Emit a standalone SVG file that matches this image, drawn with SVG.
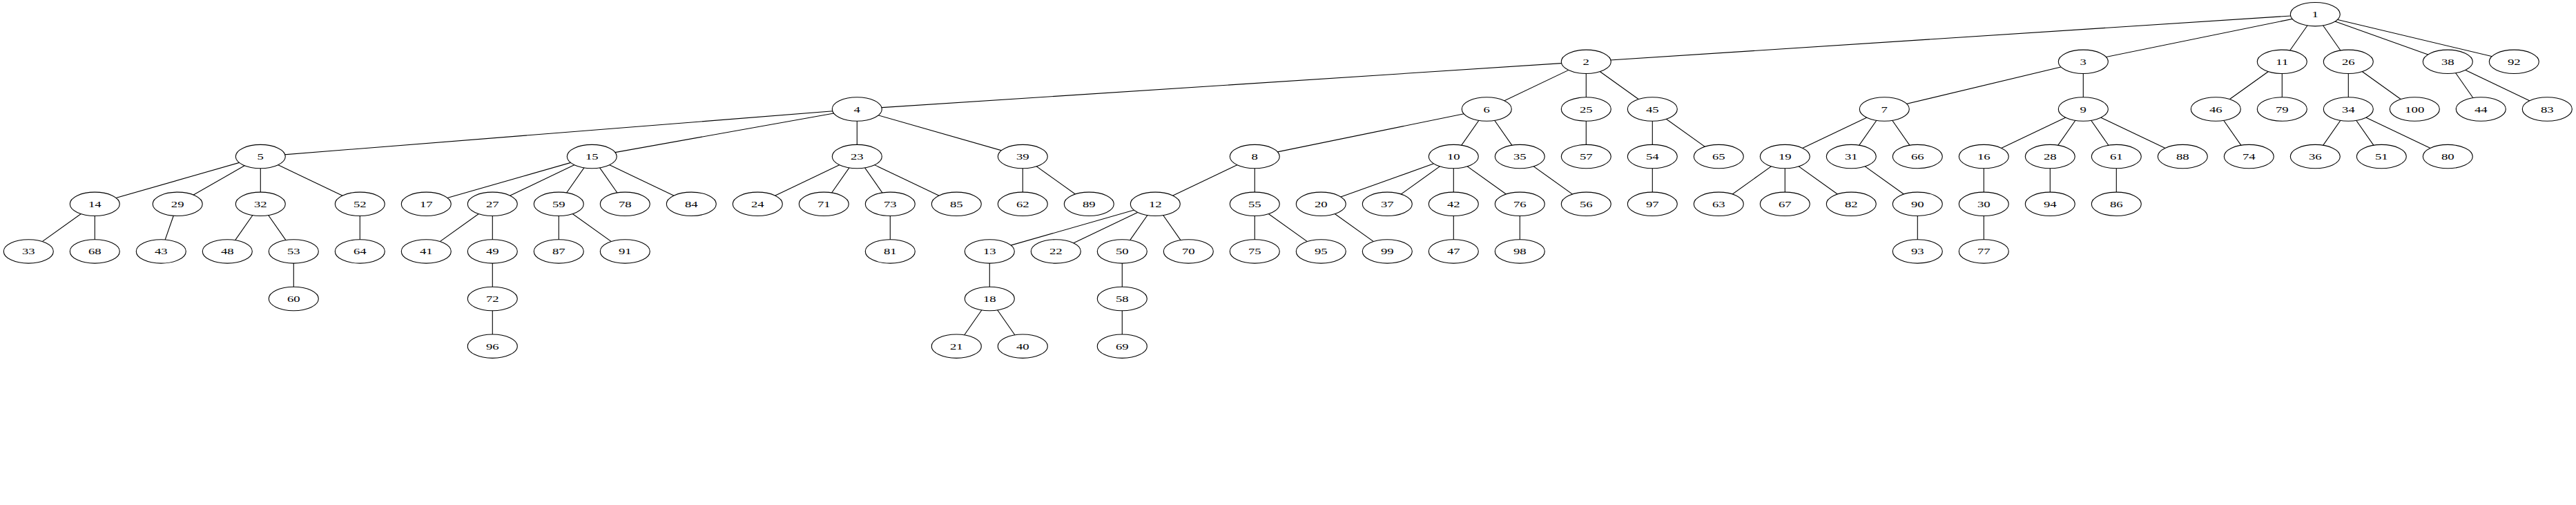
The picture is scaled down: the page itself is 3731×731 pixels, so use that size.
<svg xmlns="http://www.w3.org/2000/svg" width="3731" height="731" viewBox="0 0 3731 731">
<style>
.node ellipse{fill:#fff;stroke:#000;stroke-width:1.1}
.node text{font-family:"Liberation Serif","Times New Roman",serif;font-size:13.4px;text-anchor:middle;fill:#000}
#edges line{stroke:#000;stroke-width:1.1}
</style>
<rect width="3731" height="731" fill="#fff"/>
<g id="edges">
<line x1="3353.3" y1="20.7" x2="2297.3" y2="89.3"/>
<line x1="3353.3" y1="20.7" x2="3017.3" y2="89.3"/>
<line x1="3353.3" y1="20.7" x2="3305.3" y2="89.3"/>
<line x1="3353.3" y1="20.7" x2="3401.3" y2="89.3"/>
<line x1="3353.3" y1="20.7" x2="3545.3" y2="89.3"/>
<line x1="3353.3" y1="20.7" x2="3641.3" y2="89.3"/>
<line x1="2297.3" y1="89.3" x2="1241.3" y2="158"/>
<line x1="2297.3" y1="89.3" x2="2153.3" y2="158"/>
<line x1="2297.3" y1="89.3" x2="2297.3" y2="158"/>
<line x1="2297.3" y1="89.3" x2="2393.3" y2="158"/>
<line x1="3017.3" y1="89.3" x2="2729.3" y2="158"/>
<line x1="3017.3" y1="89.3" x2="3017.3" y2="158"/>
<line x1="3305.3" y1="89.3" x2="3209.3" y2="158"/>
<line x1="3305.3" y1="89.3" x2="3305.3" y2="158"/>
<line x1="3401.3" y1="89.3" x2="3401.3" y2="158"/>
<line x1="3401.3" y1="89.3" x2="3497.3" y2="158"/>
<line x1="3545.3" y1="89.3" x2="3593.3" y2="158"/>
<line x1="3545.3" y1="89.3" x2="3689.3" y2="158"/>
<line x1="1241.3" y1="158" x2="377.3" y2="226.6"/>
<line x1="1241.3" y1="158" x2="857.3" y2="226.6"/>
<line x1="1241.3" y1="158" x2="1241.3" y2="226.6"/>
<line x1="1241.3" y1="158" x2="1481.3" y2="226.6"/>
<line x1="2153.3" y1="158" x2="1817.3" y2="226.6"/>
<line x1="2153.3" y1="158" x2="2105.3" y2="226.6"/>
<line x1="2153.3" y1="158" x2="2201.3" y2="226.6"/>
<line x1="2297.3" y1="158" x2="2297.3" y2="226.6"/>
<line x1="2393.3" y1="158" x2="2393.3" y2="226.6"/>
<line x1="2393.3" y1="158" x2="2489.3" y2="226.6"/>
<line x1="2729.3" y1="158" x2="2585.3" y2="226.6"/>
<line x1="2729.3" y1="158" x2="2681.3" y2="226.6"/>
<line x1="2729.3" y1="158" x2="2777.3" y2="226.6"/>
<line x1="3017.3" y1="158" x2="2873.3" y2="226.6"/>
<line x1="3017.3" y1="158" x2="2969.3" y2="226.6"/>
<line x1="3017.3" y1="158" x2="3065.3" y2="226.6"/>
<line x1="3017.3" y1="158" x2="3161.3" y2="226.6"/>
<line x1="3209.3" y1="158" x2="3257.3" y2="226.6"/>
<line x1="3401.3" y1="158" x2="3353.3" y2="226.6"/>
<line x1="3401.3" y1="158" x2="3449.3" y2="226.6"/>
<line x1="3401.3" y1="158" x2="3545.3" y2="226.6"/>
<line x1="377.3" y1="226.6" x2="137.3" y2="295.3"/>
<line x1="377.3" y1="226.6" x2="257.2" y2="295.3"/>
<line x1="377.3" y1="226.6" x2="377.3" y2="295.3"/>
<line x1="377.3" y1="226.6" x2="521.3" y2="295.3"/>
<line x1="857.3" y1="226.6" x2="617.3" y2="295.3"/>
<line x1="857.3" y1="226.6" x2="713.3" y2="295.3"/>
<line x1="857.3" y1="226.6" x2="809.3" y2="295.3"/>
<line x1="857.3" y1="226.6" x2="905.3" y2="295.3"/>
<line x1="857.3" y1="226.6" x2="1001.3" y2="295.3"/>
<line x1="1241.3" y1="226.6" x2="1097.3" y2="295.3"/>
<line x1="1241.3" y1="226.6" x2="1193.3" y2="295.3"/>
<line x1="1241.3" y1="226.6" x2="1289.3" y2="295.3"/>
<line x1="1241.3" y1="226.6" x2="1385.3" y2="295.3"/>
<line x1="1481.3" y1="226.6" x2="1481.3" y2="295.3"/>
<line x1="1481.3" y1="226.6" x2="1577.3" y2="295.3"/>
<line x1="1817.3" y1="226.6" x2="1673.3" y2="295.3"/>
<line x1="1817.3" y1="226.6" x2="1817.3" y2="295.3"/>
<line x1="2105.3" y1="226.6" x2="1913.3" y2="295.3"/>
<line x1="2105.3" y1="226.6" x2="2009.3" y2="295.3"/>
<line x1="2105.3" y1="226.6" x2="2105.3" y2="295.3"/>
<line x1="2105.3" y1="226.6" x2="2201.3" y2="295.3"/>
<line x1="2201.3" y1="226.6" x2="2297.3" y2="295.3"/>
<line x1="2393.3" y1="226.6" x2="2393.3" y2="295.3"/>
<line x1="2585.3" y1="226.6" x2="2489.3" y2="295.3"/>
<line x1="2585.3" y1="226.6" x2="2585.3" y2="295.3"/>
<line x1="2585.3" y1="226.6" x2="2681.3" y2="295.3"/>
<line x1="2681.3" y1="226.6" x2="2777.3" y2="295.3"/>
<line x1="2873.3" y1="226.6" x2="2873.3" y2="295.3"/>
<line x1="2969.3" y1="226.6" x2="2969.3" y2="295.3"/>
<line x1="3065.3" y1="226.6" x2="3065.3" y2="295.3"/>
<line x1="137.3" y1="295.3" x2="41.3" y2="363.9"/>
<line x1="137.3" y1="295.3" x2="137.3" y2="363.9"/>
<line x1="257.2" y1="295.3" x2="233.3" y2="363.9"/>
<line x1="377.3" y1="295.3" x2="329.3" y2="363.9"/>
<line x1="377.3" y1="295.3" x2="425.3" y2="363.9"/>
<line x1="521.3" y1="295.3" x2="521.3" y2="363.9"/>
<line x1="713.3" y1="295.3" x2="617.3" y2="363.9"/>
<line x1="713.3" y1="295.3" x2="713.3" y2="363.9"/>
<line x1="809.3" y1="295.3" x2="809.3" y2="363.9"/>
<line x1="809.3" y1="295.3" x2="905.3" y2="363.9"/>
<line x1="1289.3" y1="295.3" x2="1289.3" y2="363.9"/>
<line x1="1673.3" y1="295.3" x2="1433.3" y2="363.9"/>
<line x1="1673.3" y1="295.3" x2="1529.3" y2="363.9"/>
<line x1="1673.3" y1="295.3" x2="1625.3" y2="363.9"/>
<line x1="1673.3" y1="295.3" x2="1721.3" y2="363.9"/>
<line x1="1817.3" y1="295.3" x2="1817.3" y2="363.9"/>
<line x1="1817.3" y1="295.3" x2="1913.3" y2="363.9"/>
<line x1="1913.3" y1="295.3" x2="2009.3" y2="363.9"/>
<line x1="2105.3" y1="295.3" x2="2105.3" y2="363.9"/>
<line x1="2201.3" y1="295.3" x2="2201.3" y2="363.9"/>
<line x1="2777.3" y1="295.3" x2="2777.3" y2="363.9"/>
<line x1="2873.3" y1="295.3" x2="2873.3" y2="363.9"/>
<line x1="425.3" y1="363.9" x2="425.3" y2="432.5"/>
<line x1="713.3" y1="363.9" x2="713.3" y2="432.5"/>
<line x1="1433.3" y1="363.9" x2="1433.3" y2="432.5"/>
<line x1="1625.3" y1="363.9" x2="1625.3" y2="432.5"/>
<line x1="713.3" y1="432.5" x2="713.3" y2="501.2"/>
<line x1="1433.3" y1="432.5" x2="1385.3" y2="501.2"/>
<line x1="1433.3" y1="432.5" x2="1481.3" y2="501.2"/>
<line x1="1625.3" y1="432.5" x2="1625.3" y2="501.2"/>
</g>
<g id="n1" class="node"><ellipse cx="3353.3" cy="20.7" rx="36" ry="17.2"/><text transform="translate(3353.3,20.7) scale(1.4,1)" y="4.5">1</text></g>
<g id="n2" class="node"><ellipse cx="2297.3" cy="89.3" rx="36" ry="17.2"/><text transform="translate(2297.3,89.3) scale(1.4,1)" y="4.5">2</text></g>
<g id="n3" class="node"><ellipse cx="3017.3" cy="89.3" rx="36" ry="17.2"/><text transform="translate(3017.3,89.3) scale(1.4,1)" y="4.5">3</text></g>
<g id="n11" class="node"><ellipse cx="3305.3" cy="89.3" rx="36" ry="17.2"/><text transform="translate(3305.3,89.3) scale(1.4,1)" y="4.5">11</text></g>
<g id="n26" class="node"><ellipse cx="3401.3" cy="89.3" rx="36" ry="17.2"/><text transform="translate(3401.3,89.3) scale(1.4,1)" y="4.5">26</text></g>
<g id="n38" class="node"><ellipse cx="3545.3" cy="89.3" rx="36" ry="17.2"/><text transform="translate(3545.3,89.3) scale(1.4,1)" y="4.5">38</text></g>
<g id="n92" class="node"><ellipse cx="3641.3" cy="89.3" rx="36" ry="17.2"/><text transform="translate(3641.3,89.3) scale(1.4,1)" y="4.5">92</text></g>
<g id="n4" class="node"><ellipse cx="1241.3" cy="158" rx="36" ry="17.2"/><text transform="translate(1241.3,158) scale(1.4,1)" y="4.5">4</text></g>
<g id="n6" class="node"><ellipse cx="2153.3" cy="158" rx="36" ry="17.2"/><text transform="translate(2153.3,158) scale(1.4,1)" y="4.5">6</text></g>
<g id="n25" class="node"><ellipse cx="2297.3" cy="158" rx="36" ry="17.2"/><text transform="translate(2297.3,158) scale(1.4,1)" y="4.5">25</text></g>
<g id="n45" class="node"><ellipse cx="2393.3" cy="158" rx="36" ry="17.2"/><text transform="translate(2393.3,158) scale(1.4,1)" y="4.5">45</text></g>
<g id="n7" class="node"><ellipse cx="2729.3" cy="158" rx="36" ry="17.2"/><text transform="translate(2729.3,158) scale(1.4,1)" y="4.5">7</text></g>
<g id="n9" class="node"><ellipse cx="3017.3" cy="158" rx="36" ry="17.2"/><text transform="translate(3017.3,158) scale(1.4,1)" y="4.5">9</text></g>
<g id="n46" class="node"><ellipse cx="3209.3" cy="158" rx="36" ry="17.2"/><text transform="translate(3209.3,158) scale(1.4,1)" y="4.5">46</text></g>
<g id="n79" class="node"><ellipse cx="3305.3" cy="158" rx="36" ry="17.2"/><text transform="translate(3305.3,158) scale(1.4,1)" y="4.5">79</text></g>
<g id="n34" class="node"><ellipse cx="3401.3" cy="158" rx="36" ry="17.2"/><text transform="translate(3401.3,158) scale(1.4,1)" y="4.5">34</text></g>
<g id="n100" class="node"><ellipse cx="3497.3" cy="158" rx="36" ry="17.2"/><text transform="translate(3497.3,158) scale(1.4,1)" y="4.5">100</text></g>
<g id="n44" class="node"><ellipse cx="3593.3" cy="158" rx="36" ry="17.2"/><text transform="translate(3593.3,158) scale(1.4,1)" y="4.5">44</text></g>
<g id="n83" class="node"><ellipse cx="3689.3" cy="158" rx="36" ry="17.2"/><text transform="translate(3689.3,158) scale(1.4,1)" y="4.5">83</text></g>
<g id="n5" class="node"><ellipse cx="377.3" cy="226.6" rx="36" ry="17.2"/><text transform="translate(377.3,226.6) scale(1.4,1)" y="4.5">5</text></g>
<g id="n15" class="node"><ellipse cx="857.3" cy="226.6" rx="36" ry="17.2"/><text transform="translate(857.3,226.6) scale(1.4,1)" y="4.5">15</text></g>
<g id="n23" class="node"><ellipse cx="1241.3" cy="226.6" rx="36" ry="17.2"/><text transform="translate(1241.3,226.6) scale(1.4,1)" y="4.5">23</text></g>
<g id="n39" class="node"><ellipse cx="1481.3" cy="226.6" rx="36" ry="17.2"/><text transform="translate(1481.3,226.6) scale(1.4,1)" y="4.5">39</text></g>
<g id="n8" class="node"><ellipse cx="1817.3" cy="226.6" rx="36" ry="17.2"/><text transform="translate(1817.3,226.6) scale(1.4,1)" y="4.5">8</text></g>
<g id="n10" class="node"><ellipse cx="2105.3" cy="226.6" rx="36" ry="17.2"/><text transform="translate(2105.3,226.6) scale(1.4,1)" y="4.5">10</text></g>
<g id="n35" class="node"><ellipse cx="2201.3" cy="226.6" rx="36" ry="17.2"/><text transform="translate(2201.3,226.6) scale(1.4,1)" y="4.5">35</text></g>
<g id="n57" class="node"><ellipse cx="2297.3" cy="226.6" rx="36" ry="17.2"/><text transform="translate(2297.3,226.6) scale(1.4,1)" y="4.5">57</text></g>
<g id="n54" class="node"><ellipse cx="2393.3" cy="226.6" rx="36" ry="17.2"/><text transform="translate(2393.3,226.6) scale(1.4,1)" y="4.5">54</text></g>
<g id="n65" class="node"><ellipse cx="2489.3" cy="226.6" rx="36" ry="17.2"/><text transform="translate(2489.3,226.6) scale(1.4,1)" y="4.5">65</text></g>
<g id="n19" class="node"><ellipse cx="2585.3" cy="226.6" rx="36" ry="17.2"/><text transform="translate(2585.3,226.6) scale(1.4,1)" y="4.5">19</text></g>
<g id="n31" class="node"><ellipse cx="2681.3" cy="226.6" rx="36" ry="17.2"/><text transform="translate(2681.3,226.6) scale(1.4,1)" y="4.5">31</text></g>
<g id="n66" class="node"><ellipse cx="2777.3" cy="226.6" rx="36" ry="17.2"/><text transform="translate(2777.3,226.6) scale(1.4,1)" y="4.5">66</text></g>
<g id="n16" class="node"><ellipse cx="2873.3" cy="226.6" rx="36" ry="17.2"/><text transform="translate(2873.3,226.6) scale(1.4,1)" y="4.5">16</text></g>
<g id="n28" class="node"><ellipse cx="2969.3" cy="226.6" rx="36" ry="17.2"/><text transform="translate(2969.3,226.6) scale(1.4,1)" y="4.5">28</text></g>
<g id="n61" class="node"><ellipse cx="3065.3" cy="226.6" rx="36" ry="17.2"/><text transform="translate(3065.3,226.6) scale(1.4,1)" y="4.5">61</text></g>
<g id="n88" class="node"><ellipse cx="3161.3" cy="226.6" rx="36" ry="17.2"/><text transform="translate(3161.3,226.6) scale(1.4,1)" y="4.5">88</text></g>
<g id="n74" class="node"><ellipse cx="3257.3" cy="226.6" rx="36" ry="17.2"/><text transform="translate(3257.3,226.6) scale(1.4,1)" y="4.5">74</text></g>
<g id="n36" class="node"><ellipse cx="3353.3" cy="226.6" rx="36" ry="17.2"/><text transform="translate(3353.3,226.6) scale(1.4,1)" y="4.5">36</text></g>
<g id="n51" class="node"><ellipse cx="3449.3" cy="226.6" rx="36" ry="17.2"/><text transform="translate(3449.3,226.6) scale(1.4,1)" y="4.5">51</text></g>
<g id="n80" class="node"><ellipse cx="3545.3" cy="226.6" rx="36" ry="17.2"/><text transform="translate(3545.3,226.6) scale(1.4,1)" y="4.5">80</text></g>
<g id="n14" class="node"><ellipse cx="137.3" cy="295.3" rx="36" ry="17.2"/><text transform="translate(137.3,295.3) scale(1.4,1)" y="4.5">14</text></g>
<g id="n29" class="node"><ellipse cx="257.2" cy="295.3" rx="36" ry="17.2"/><text transform="translate(257.2,295.3) scale(1.4,1)" y="4.5">29</text></g>
<g id="n32" class="node"><ellipse cx="377.3" cy="295.3" rx="36" ry="17.2"/><text transform="translate(377.3,295.3) scale(1.4,1)" y="4.5">32</text></g>
<g id="n52" class="node"><ellipse cx="521.3" cy="295.3" rx="36" ry="17.2"/><text transform="translate(521.3,295.3) scale(1.4,1)" y="4.5">52</text></g>
<g id="n17" class="node"><ellipse cx="617.3" cy="295.3" rx="36" ry="17.2"/><text transform="translate(617.3,295.3) scale(1.4,1)" y="4.5">17</text></g>
<g id="n27" class="node"><ellipse cx="713.3" cy="295.3" rx="36" ry="17.2"/><text transform="translate(713.3,295.3) scale(1.4,1)" y="4.5">27</text></g>
<g id="n59" class="node"><ellipse cx="809.3" cy="295.3" rx="36" ry="17.2"/><text transform="translate(809.3,295.3) scale(1.4,1)" y="4.5">59</text></g>
<g id="n78" class="node"><ellipse cx="905.3" cy="295.3" rx="36" ry="17.2"/><text transform="translate(905.3,295.3) scale(1.4,1)" y="4.5">78</text></g>
<g id="n84" class="node"><ellipse cx="1001.3" cy="295.3" rx="36" ry="17.2"/><text transform="translate(1001.3,295.3) scale(1.4,1)" y="4.5">84</text></g>
<g id="n24" class="node"><ellipse cx="1097.3" cy="295.3" rx="36" ry="17.2"/><text transform="translate(1097.3,295.3) scale(1.4,1)" y="4.5">24</text></g>
<g id="n71" class="node"><ellipse cx="1193.3" cy="295.3" rx="36" ry="17.2"/><text transform="translate(1193.3,295.3) scale(1.4,1)" y="4.5">71</text></g>
<g id="n73" class="node"><ellipse cx="1289.3" cy="295.3" rx="36" ry="17.2"/><text transform="translate(1289.3,295.3) scale(1.4,1)" y="4.5">73</text></g>
<g id="n85" class="node"><ellipse cx="1385.3" cy="295.3" rx="36" ry="17.2"/><text transform="translate(1385.3,295.3) scale(1.4,1)" y="4.5">85</text></g>
<g id="n62" class="node"><ellipse cx="1481.3" cy="295.3" rx="36" ry="17.2"/><text transform="translate(1481.3,295.3) scale(1.4,1)" y="4.5">62</text></g>
<g id="n89" class="node"><ellipse cx="1577.3" cy="295.3" rx="36" ry="17.2"/><text transform="translate(1577.3,295.3) scale(1.4,1)" y="4.5">89</text></g>
<g id="n12" class="node"><ellipse cx="1673.3" cy="295.3" rx="36" ry="17.2"/><text transform="translate(1673.3,295.3) scale(1.4,1)" y="4.5">12</text></g>
<g id="n55" class="node"><ellipse cx="1817.3" cy="295.3" rx="36" ry="17.2"/><text transform="translate(1817.3,295.3) scale(1.4,1)" y="4.5">55</text></g>
<g id="n20" class="node"><ellipse cx="1913.3" cy="295.3" rx="36" ry="17.2"/><text transform="translate(1913.3,295.3) scale(1.4,1)" y="4.5">20</text></g>
<g id="n37" class="node"><ellipse cx="2009.3" cy="295.3" rx="36" ry="17.2"/><text transform="translate(2009.3,295.3) scale(1.4,1)" y="4.5">37</text></g>
<g id="n42" class="node"><ellipse cx="2105.3" cy="295.3" rx="36" ry="17.2"/><text transform="translate(2105.3,295.3) scale(1.4,1)" y="4.5">42</text></g>
<g id="n76" class="node"><ellipse cx="2201.3" cy="295.3" rx="36" ry="17.2"/><text transform="translate(2201.3,295.3) scale(1.4,1)" y="4.5">76</text></g>
<g id="n56" class="node"><ellipse cx="2297.3" cy="295.3" rx="36" ry="17.2"/><text transform="translate(2297.3,295.3) scale(1.4,1)" y="4.5">56</text></g>
<g id="n97" class="node"><ellipse cx="2393.3" cy="295.3" rx="36" ry="17.2"/><text transform="translate(2393.3,295.3) scale(1.4,1)" y="4.5">97</text></g>
<g id="n63" class="node"><ellipse cx="2489.3" cy="295.3" rx="36" ry="17.2"/><text transform="translate(2489.3,295.3) scale(1.4,1)" y="4.5">63</text></g>
<g id="n67" class="node"><ellipse cx="2585.3" cy="295.3" rx="36" ry="17.2"/><text transform="translate(2585.3,295.3) scale(1.4,1)" y="4.5">67</text></g>
<g id="n82" class="node"><ellipse cx="2681.3" cy="295.3" rx="36" ry="17.2"/><text transform="translate(2681.3,295.3) scale(1.4,1)" y="4.5">82</text></g>
<g id="n90" class="node"><ellipse cx="2777.3" cy="295.3" rx="36" ry="17.2"/><text transform="translate(2777.3,295.3) scale(1.4,1)" y="4.5">90</text></g>
<g id="n30" class="node"><ellipse cx="2873.3" cy="295.3" rx="36" ry="17.2"/><text transform="translate(2873.3,295.3) scale(1.4,1)" y="4.5">30</text></g>
<g id="n94" class="node"><ellipse cx="2969.3" cy="295.3" rx="36" ry="17.2"/><text transform="translate(2969.3,295.3) scale(1.4,1)" y="4.5">94</text></g>
<g id="n86" class="node"><ellipse cx="3065.3" cy="295.3" rx="36" ry="17.2"/><text transform="translate(3065.3,295.3) scale(1.4,1)" y="4.5">86</text></g>
<g id="n33" class="node"><ellipse cx="41.3" cy="363.9" rx="36" ry="17.2"/><text transform="translate(41.3,363.9) scale(1.4,1)" y="4.5">33</text></g>
<g id="n68" class="node"><ellipse cx="137.3" cy="363.9" rx="36" ry="17.2"/><text transform="translate(137.3,363.9) scale(1.4,1)" y="4.5">68</text></g>
<g id="n43" class="node"><ellipse cx="233.3" cy="363.9" rx="36" ry="17.2"/><text transform="translate(233.3,363.9) scale(1.4,1)" y="4.5">43</text></g>
<g id="n48" class="node"><ellipse cx="329.3" cy="363.9" rx="36" ry="17.2"/><text transform="translate(329.3,363.9) scale(1.4,1)" y="4.5">48</text></g>
<g id="n53" class="node"><ellipse cx="425.3" cy="363.9" rx="36" ry="17.2"/><text transform="translate(425.3,363.9) scale(1.4,1)" y="4.5">53</text></g>
<g id="n64" class="node"><ellipse cx="521.3" cy="363.9" rx="36" ry="17.2"/><text transform="translate(521.3,363.9) scale(1.4,1)" y="4.5">64</text></g>
<g id="n41" class="node"><ellipse cx="617.3" cy="363.9" rx="36" ry="17.2"/><text transform="translate(617.3,363.9) scale(1.4,1)" y="4.5">41</text></g>
<g id="n49" class="node"><ellipse cx="713.3" cy="363.9" rx="36" ry="17.2"/><text transform="translate(713.3,363.9) scale(1.4,1)" y="4.5">49</text></g>
<g id="n87" class="node"><ellipse cx="809.3" cy="363.9" rx="36" ry="17.2"/><text transform="translate(809.3,363.9) scale(1.4,1)" y="4.5">87</text></g>
<g id="n91" class="node"><ellipse cx="905.3" cy="363.9" rx="36" ry="17.2"/><text transform="translate(905.3,363.9) scale(1.4,1)" y="4.5">91</text></g>
<g id="n81" class="node"><ellipse cx="1289.3" cy="363.9" rx="36" ry="17.2"/><text transform="translate(1289.3,363.9) scale(1.4,1)" y="4.5">81</text></g>
<g id="n13" class="node"><ellipse cx="1433.3" cy="363.9" rx="36" ry="17.2"/><text transform="translate(1433.3,363.9) scale(1.4,1)" y="4.5">13</text></g>
<g id="n22" class="node"><ellipse cx="1529.3" cy="363.9" rx="36" ry="17.2"/><text transform="translate(1529.3,363.9) scale(1.4,1)" y="4.5">22</text></g>
<g id="n50" class="node"><ellipse cx="1625.3" cy="363.9" rx="36" ry="17.2"/><text transform="translate(1625.3,363.9) scale(1.4,1)" y="4.5">50</text></g>
<g id="n70" class="node"><ellipse cx="1721.3" cy="363.9" rx="36" ry="17.2"/><text transform="translate(1721.3,363.9) scale(1.4,1)" y="4.5">70</text></g>
<g id="n75" class="node"><ellipse cx="1817.3" cy="363.9" rx="36" ry="17.2"/><text transform="translate(1817.3,363.9) scale(1.4,1)" y="4.5">75</text></g>
<g id="n95" class="node"><ellipse cx="1913.3" cy="363.9" rx="36" ry="17.2"/><text transform="translate(1913.3,363.9) scale(1.4,1)" y="4.5">95</text></g>
<g id="n99" class="node"><ellipse cx="2009.3" cy="363.9" rx="36" ry="17.2"/><text transform="translate(2009.3,363.9) scale(1.4,1)" y="4.5">99</text></g>
<g id="n47" class="node"><ellipse cx="2105.3" cy="363.9" rx="36" ry="17.2"/><text transform="translate(2105.3,363.9) scale(1.4,1)" y="4.5">47</text></g>
<g id="n98" class="node"><ellipse cx="2201.3" cy="363.9" rx="36" ry="17.2"/><text transform="translate(2201.3,363.9) scale(1.4,1)" y="4.5">98</text></g>
<g id="n93" class="node"><ellipse cx="2777.3" cy="363.9" rx="36" ry="17.2"/><text transform="translate(2777.3,363.9) scale(1.4,1)" y="4.5">93</text></g>
<g id="n77" class="node"><ellipse cx="2873.3" cy="363.9" rx="36" ry="17.2"/><text transform="translate(2873.3,363.9) scale(1.4,1)" y="4.5">77</text></g>
<g id="n60" class="node"><ellipse cx="425.3" cy="432.5" rx="36" ry="17.2"/><text transform="translate(425.3,432.5) scale(1.4,1)" y="4.5">60</text></g>
<g id="n72" class="node"><ellipse cx="713.3" cy="432.5" rx="36" ry="17.2"/><text transform="translate(713.3,432.5) scale(1.4,1)" y="4.5">72</text></g>
<g id="n18" class="node"><ellipse cx="1433.3" cy="432.5" rx="36" ry="17.2"/><text transform="translate(1433.3,432.5) scale(1.4,1)" y="4.5">18</text></g>
<g id="n58" class="node"><ellipse cx="1625.3" cy="432.5" rx="36" ry="17.2"/><text transform="translate(1625.3,432.5) scale(1.4,1)" y="4.5">58</text></g>
<g id="n96" class="node"><ellipse cx="713.3" cy="501.2" rx="36" ry="17.2"/><text transform="translate(713.3,501.2) scale(1.4,1)" y="4.5">96</text></g>
<g id="n21" class="node"><ellipse cx="1385.3" cy="501.2" rx="36" ry="17.2"/><text transform="translate(1385.3,501.2) scale(1.4,1)" y="4.5">21</text></g>
<g id="n40" class="node"><ellipse cx="1481.3" cy="501.2" rx="36" ry="17.2"/><text transform="translate(1481.3,501.2) scale(1.4,1)" y="4.5">40</text></g>
<g id="n69" class="node"><ellipse cx="1625.3" cy="501.2" rx="36" ry="17.2"/><text transform="translate(1625.3,501.2) scale(1.4,1)" y="4.5">69</text></g>
</svg>
